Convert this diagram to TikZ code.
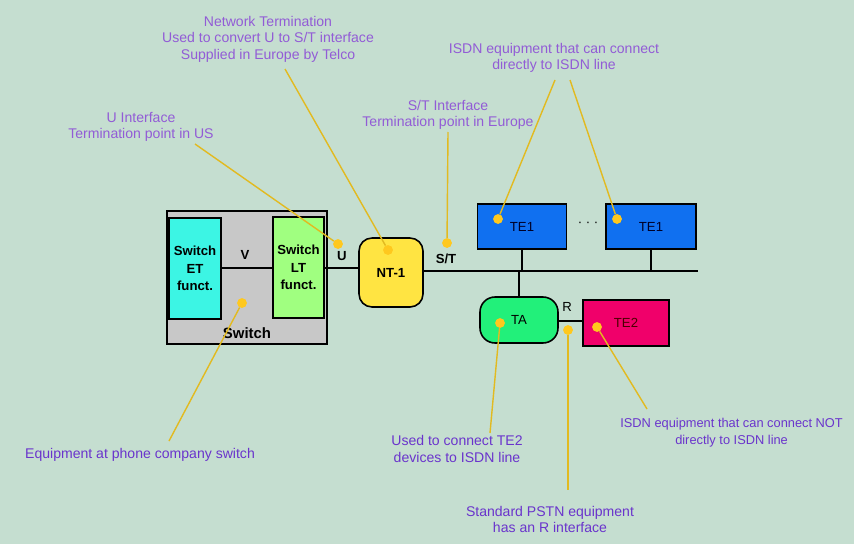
\documentclass[tikz,border=0pt]{standalone}
\usepackage{fontspec}
\setmainfont{Liberation Sans}

\definecolor{bgmint}{RGB}{197,222,208}
\definecolor{switchgray}{RGB}{200,200,200}
\definecolor{etcyan}{RGB}{60,245,228}
\definecolor{ltgreen}{RGB}{160,255,128}
\definecolor{ntyellow}{RGB}{255,228,66}
\definecolor{teblue}{RGB}{16,112,240}
\definecolor{tagreen}{RGB}{34,240,122}
\definecolor{temagenta}{RGB}{240,0,106}
\definecolor{notepurple}{RGB}{146,92,214}
\definecolor{notedark}{RGB}{106,52,204}
\definecolor{leadgold}{RGB}{226,186,32}
\definecolor{spotyellow}{RGB}{255,200,30}

\begin{document}
\begin{tikzpicture}[x=0.02cm, y=-0.02cm,
    box/.style={draw=black, line width=0.9pt, inner sep=0pt},
    boxlabel/.style={font=\fontsize{7.5}{10}\selectfont\bfseries, align=center},
    telabel/.style={font=\fontsize{7.5}{9}\selectfont},
    note/.style={text=notepurple, font=\fontsize{8}{9.4}\selectfont, align=center},
    lownote/.style={note, text=notedark},
    wire/.style={line width=0.9pt},
    leader/.style={draw=leadgold, line width=0.8pt},
    spot/.style={circle, fill=spotyellow, inner sep=0pt, minimum size=0.19cm}]

    % Background
    \useasboundingbox (0,0) rectangle (854,544);
    \fill[bgmint] (0,0) rectangle (854,544);

    % Switch with its two functions
    \node[box, fill=switchgray, minimum width=3.2cm, minimum height=2.66cm] (switch) at (247,277.5) {};
    \node[box, fill=etcyan, minimum width=1.04cm, minimum height=2.02cm, boxlabel] (et) at (195,268.5) {Switch\\ET\\funct.};
    \node[box, fill=ltgreen, minimum width=1.02cm, minimum height=2.02cm, boxlabel] (lt) at (298.5,267.5) {Switch\\LT\\funct.};
    \node[boxlabel, font=\fontsize{8.5}{10}\selectfont\bfseries] (switchname) at (247,333) {Switch};

    % Network termination
    \node[box, fill=ntyellow, rounded corners=0.26cm, minimum width=1.28cm, minimum height=1.38cm, boxlabel] (nt) at (391,272.5) {NT-1};

    % Terminal equipment on the S/T bus
    \node[box, fill=teblue, minimum width=1.78cm, minimum height=0.9cm, telabel, text=black!85!blue] (te1a) at (522,226.5) {TE1};
    \node[box, fill=teblue, minimum width=1.8cm, minimum height=0.9cm, telabel, text=black!85!blue] (te1b) at (651,226.5) {TE1};
    \node[telabel] (more) at (588,224) {· · ·};
    \node[box, fill=tagreen, rounded corners=0.3cm, minimum width=1.56cm, minimum height=0.92cm, telabel] (ta) at (519,320) {TA};
    \node[box, fill=temagenta, minimum width=1.72cm, minimum height=0.92cm, telabel, text=black!70!red] (te2) at (626,323) {TE2};

    % Wires and reference points
    \coordinate (busend) at (698,271);
    \draw[wire] (et.east |- 0,268) -- (lt.west |- 0,268);
    \draw[wire] (lt.east |- 0,268) -- (nt.west |- 0,268);
    \draw[wire] (nt.east |- busend) -- (busend);
    \draw[wire] (te1a.south) -- (te1a.south |- busend);
    \draw[wire] (te1b.south) -- (te1b.south |- busend);
    \draw[wire] (ta.north) -- (ta.north |- busend);
    \draw[wire] (ta.east |- 0,321) -- (te2.west |- 0,321);

    \node[boxlabel] (vlabel) at (245,255) {V};
    \node[boxlabel] (ulabel) at (342,256) {U};
    \node[boxlabel] (stlabel) at (446,259) {S/T};
    \node[telabel] (rlabel) at (567,307) {R};

    % Notes
    \node[note] (ntnote) at (268,39) {Network Termination\\Used to convert U to S/T interface\\Supplied in Europe by Telco};
    \node[note] (unote) at (141,127) {U Interface\\Termination point in US};
    \node[note] (stnote) at (448,115) {S/T Interface\\Termination point in Europe};
    \node[note] (te1note) at (554,58) {ISDN equipment that can connect\\directly to ISDN line};
    \node[lownote] (swnote) at (140,455) {Equipment at phone company switch};
    \node[lownote] (tanote) at (457,449) {Used to connect TE2\\devices to ISDN line};
    \node[lownote] (rnote) at (550,519.5) {Standard PSTN equipment\\has an R interface};
    \node[lownote, font=\fontsize{7.3}{9.4}\selectfont, anchor=west, inner sep=0pt] (te2note) at (620,432.5) {ISDN equipment that can connect NOT\\directly to ISDN line};

    % Hot spots
    \node[spot] (ntspot) at (388,250) {};
    \node[spot] (uspot) at (338,244) {};
    \node[spot] (stspot) at (447,243) {};
    \node[spot] (te1aspot) at (498,219) {};
    \node[spot] (te1bspot) at (617,219) {};
    \node[spot] (swspot) at (242,303) {};
    \node[spot] (taspot) at (500,323) {};
    \node[spot] (rspot) at (568,330) {};
    \node[spot] (te2spot) at (597,327) {};

    % Leader lines
    \coordinate (ntfoot) at (285,69);
    \coordinate (ufoot) at (195,144);
    \coordinate (stfoot) at (448,132);
    \coordinate (te1afoot) at (555,80);
    \coordinate (te1bfoot) at (570,80);
    \coordinate (swfoot) at (169,441);
    \coordinate (tafoot) at (490,433);
    \coordinate (rfoot) at (568,490);
    \coordinate (te2foot) at (647,409);
    \draw[leader] (ntfoot) -- (ntspot);
    \draw[leader] (ufoot) -- (uspot);
    \draw[leader] (stfoot) -- (stspot);
    \draw[leader] (te1afoot) -- (te1aspot);
    \draw[leader] (te1bfoot) -- (te1bspot);
    \draw[leader] (swspot) -- (swfoot);
    \draw[leader] (taspot) -- (tafoot);
    \draw[leader] (rspot) -- (rfoot);
    \draw[leader] (te2spot) -- (te2foot);
    \foreach \s in {ntspot,uspot,stspot,te1aspot,te1bspot,swspot,taspot,rspot,te2spot}
        \fill[spotyellow] (\s) circle (0.095cm);

\end{tikzpicture}
\end{document}
